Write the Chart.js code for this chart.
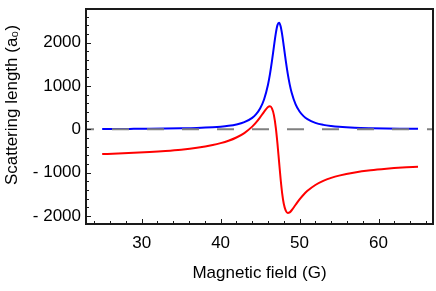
<!DOCTYPE html>
<html>
<head>
<meta charset="utf-8">
<script src="https://cdn.jsdelivr.net/npm/chart.js@4.4.1/dist/chart.umd.min.js"></script>
<style>
  html, body { margin: 0; padding: 0; background: #ffffff; }
  #wrap { width: 436px; height: 291px; position: relative; }
</style>
</head>
<body>
<div id="wrap"><canvas id="c" width="436" height="291"></canvas></div>
<script>
// ---- data ----
const fieldG = [25,27,29,31,33,35,37,39,40,41,42,43,44,44.5,45,45.5,46,46.25,46.5,46.75,47,47.2,47.4,47.6,47.8,48,48.25,48.5,48.75,49,49.5,50,50.5,51,52,53,54,55,57,59,61,63,65];
const imagPart = [7,8,10,12,16,22,31,47,60,80,111,164,263,349,479,687,1029,1273,1571,1907,2225,2403,2459,2376,2179,1921,1584,1284,1037,843,574,409,303,233,148,102,75,57,36,25,18,14,11];
const realPart = [-572,-559,-544,-525,-501,-470,-426,-363,-320,-264,-189,-87,61,158,274,404,514,529,482,327,23,-330,-742,-1147,-1482,-1718,-1878,-1929,-1915,-1868,-1741,-1616,-1509,-1420,-1285,-1191,-1122,-1069,-995,-945,-910,-883,-863];
const zeroLineX = [22.95, 66.9];
const zeroLineY = [0, 0];
const xTicks = [30, 40, 50, 60];
const yTicks = [-2000, -1000, 0, 1000, 2000];
const xTitle = 'Magnetic field (G)';
const yTitle = 'Scattering length (a\u2080)';

const FONT = "'Liberation Sans', Arial, Helvetica, sans-serif";

const pts = (xs, ys) => xs.map((x, i) => ({ x: x, y: ys[i] }));

const framePlugin = {
  id: 'frame',
  afterDraw(chart) {
    const { ctx, chartArea: a, scales } = chart;
    const xs = scales.x, ys = scales.y;
    ctx.save();
    ctx.strokeStyle = '#1a1a1a';
    ctx.lineWidth = 2;
    ctx.strokeRect(a.left, a.top, a.right - a.left, a.bottom - a.top);
    ctx.lineWidth = 1;
    ctx.beginPath();
    for (let v = 24; v <= 66; v += 2) {
      const px = Math.round(xs.getPixelForValue(v)) + 0.5;
      const len = (v % 10 === 0) ? 5 : 3;
      ctx.moveTo(px, a.bottom);
      ctx.lineTo(px, a.bottom - len);
    }
    for (let v = -2000; v <= 2600; v += 200) {
      const py = Math.round(ys.getPixelForValue(v)) + 0.5;
      const len = (v % 1000 === 0) ? 5 : 3;
      ctx.moveTo(a.left, py);
      ctx.lineTo(a.left + len, py);
    }
    ctx.stroke();
    ctx.fillStyle = '#000';
    ctx.font = '17px ' + FONT;
    ctx.textAlign = 'center';
    ctx.textBaseline = 'alphabetic';
    ctx.fillText(xTitle, (a.left + a.right) / 2, 278);
    ctx.translate(17, 105);
    ctx.rotate(-Math.PI / 2);
    ctx.fillText(yTitle, 0, 0);
    ctx.restore();
  }
};

new Chart(document.getElementById('c'), {
  type: 'line',
  data: {
    datasets: [
      {
        data: pts(zeroLineX, zeroLineY),
        borderColor: '#808080',
        borderWidth: 2,
        borderDash: [17, 18],
        borderDashOffset: 9,
        pointRadius: 0,
        fill: false
      },
      {
        data: pts(fieldG, realPart),
        borderColor: '#ff0000',
        borderWidth: 2,
        pointRadius: 0,
        cubicInterpolationMode: 'monotone',
        fill: false
      },
      {
        data: pts(fieldG, imagPart),
        borderColor: '#0000ff',
        borderWidth: 2,
        pointRadius: 0,
        cubicInterpolationMode: 'monotone',
        fill: false
      }
    ]
  },
  options: {
    responsive: false,
    animation: false,
    devicePixelRatio: 1,
    layout: { padding: { top: 9, right: 3, left: 0, bottom: 0 } },
    plugins: { legend: { display: false }, tooltip: { enabled: false } },
    scales: {
      x: {
        type: 'linear',
        min: 22.95,
        max: 66.9,
        grid: { display: false, drawTicks: false },
        border: { display: false },
        afterBuildTicks: (s) => { s.ticks = xTicks.map(v => ({ value: v })); },
        afterFit: (s) => { s.height = 67; s.paddingLeft = 0; s.paddingRight = 0; },
        ticks: {
          padding: 9,
          maxRotation: 0,
          color: '#000',
          font: { family: FONT, size: 17 },
          callback: (v) => String(v)
        }
      },
      y: {
        type: 'linear',
        min: -2185,
        max: 2775,
        grid: { display: false, drawTicks: false },
        border: { display: false },
        afterBuildTicks: (s) => { s.ticks = yTicks.map(v => ({ value: v })); },
        afterFit: (s) => { s.width = 86; s.paddingTop = 0; s.paddingBottom = 0; },
        ticks: {
          padding: 5,
          color: '#000',
          font: { family: FONT, size: 17 },
          callback: (v) => v < 0 ? '- ' + Math.abs(v) : String(v)
        }
      }
    }
  },
  plugins: [framePlugin]
});
</script>
</body>
</html>
